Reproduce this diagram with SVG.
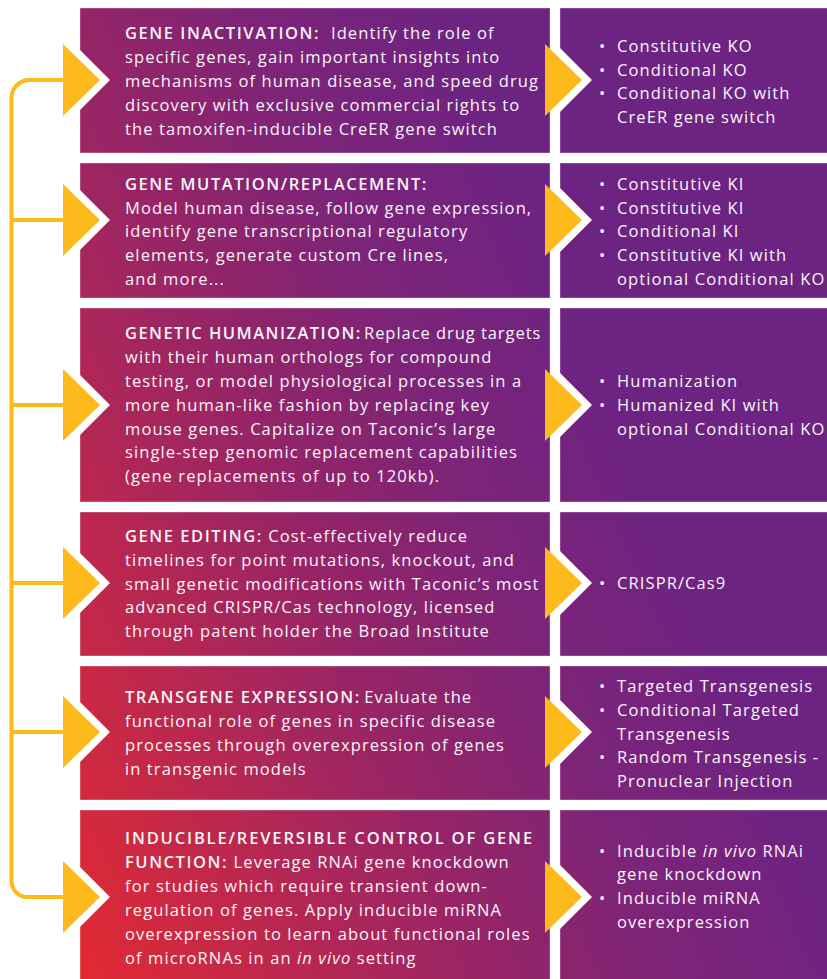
<svg xmlns="http://www.w3.org/2000/svg" width="827" height="979" viewBox="0 0 827 979">
<defs>
<linearGradient id="bg" gradientUnits="userSpaceOnUse" x1="82" y1="975" x2="752" y2="680">
<stop offset="0" stop-color="#e22a33"/>
<stop offset="0.2" stop-color="#c42848"/>
<stop offset="0.4" stop-color="#a6265d"/>
<stop offset="0.55" stop-color="#922469"/>
<stop offset="0.75" stop-color="#7c2479"/>
<stop offset="1" stop-color="#6c2382"/>
</linearGradient>
<style>
.box{fill:url(#bg);stroke:#ffffff;stroke-opacity:0.35;stroke-width:1}
.wy{fill:#ffffff}
.ay{fill:#fdba1c}
.conn{fill:none;stroke:#fdba1c;stroke-width:4}
text{font-family:"Open Sans","Noto Sans","Liberation Sans",sans-serif;font-size:16.5px;fill:#fbf4f8;letter-spacing:1.1px}
.h{font-weight:600;letter-spacing:1.55px}
.i{font-style:italic}
</style>
</defs>
<rect width="827" height="979" fill="#ffffff"/>
<g id="connectors">
<path class="conn" d="M63 80 H29.5 A18 18 0 0 0 11.5 98 V881 A16 16 0 0 0 27.5 897 H63"/>
<path class="conn" d="M11.5 220 H63 M11.5 405 H63 M11.5 583 H63 M11.5 732 H63"/>
</g>
<g id="row1">
<rect class="box" x="80" y="8" width="470" height="145"/>
<rect class="box" x="560" y="8" width="280" height="145"/>
<polygon class="wy" points="80,50 110,80 80,110"/><polygon class="ay" points="63,44 100,80 63,116"/>
<polygon class="wy" points="550,38 592,80 550,122"/><polygon class="ay" points="545,44 582,80 545,116"/>
<text x="125" y="38.5"><tspan class="h">GENE INACTIVATION:</tspan>&#160; Identify the role of</text>
<text x="125" y="62.5">specific genes, gain important insights into</text>
<text x="125" y="86.5">mechanisms of human disease, and speed drug</text>
<text x="125" y="110.5">discovery with exclusive commercial rights to</text>
<text x="125" y="134.5">the tamoxifen-inducible CreER gene switch</text>
<text x="599" y="52">•</text><text x="617" y="52">Constitutive KO</text>
<text x="599" y="75.5">•</text><text x="617" y="75.5">Conditional KO</text>
<text x="599" y="99">•</text><text x="617" y="99">Conditional KO with</text>
<text x="617" y="123">CreER gene switch</text>
</g>
<g id="row2">
<rect class="box" x="80" y="163" width="470" height="135"/>
<rect class="box" x="560" y="163" width="280" height="135"/>
<polygon class="wy" points="80,190 110,220 80,250"/><polygon class="ay" points="63,184 100,220 63,256"/>
<polygon class="wy" points="550,178 592,220 550,262"/><polygon class="ay" points="545,184 582,220 545,256"/>
<text x="125" y="190"><tspan class="h">GENE MUTATION/REPLACEMENT:</tspan></text>
<text x="125" y="213.5">Model human disease, follow gene expression,</text>
<text x="125" y="237">identify gene transcriptional regulatory</text>
<text x="125" y="261">elements, generate custom Cre lines,</text>
<text x="125" y="284.5">and more...</text>
<text x="599" y="190">•</text><text x="617" y="190">Constitutive KI</text>
<text x="599" y="213.5">•</text><text x="617" y="213.5">Constitutive KI</text>
<text x="599" y="237">•</text><text x="617" y="237">Conditional KI</text>
<text x="599" y="261">•</text><text x="617" y="261">Constitutive KI with</text>
<text x="617" y="284.5">optional Conditional KO</text>
</g>
<g id="row3">
<rect class="box" x="80" y="308" width="470" height="194"/>
<rect class="box" x="560" y="308" width="280" height="194"/>
<polygon class="wy" points="80,375 110,405 80,435"/><polygon class="ay" points="63,369 100,405 63,441"/>
<polygon class="wy" points="550,363 592,405 550,447"/><polygon class="ay" points="545,369 582,405 545,441"/>
<text x="125" y="339"><tspan class="h" style="letter-spacing:1.45px">GENETIC HUMANIZATION:</tspan><tspan dx="-3" style="letter-spacing:0.95px"> Replace drug targets</tspan></text>
<text x="125" y="363">with their human orthologs for compound</text>
<text x="125" y="387">testing, or model physiological processes in a</text>
<text x="125" y="411">more human-like fashion by replacing key</text>
<text x="125" y="434.5">mouse genes. Capitalize on Taconic’s large</text>
<text x="125" y="458">single-step genomic replacement capabilities</text>
<text x="125" y="482">(gene replacements of up to 120kb).</text>
<text x="599" y="387">•</text><text x="617" y="387">Humanization</text>
<text x="599" y="411">•</text><text x="617" y="411">Humanized KI with</text>
<text x="617" y="435">optional Conditional KO</text>
</g>
<g id="row4">
<rect class="box" x="80" y="512" width="470" height="144"/>
<rect class="box" x="560" y="512" width="280" height="144"/>
<polygon class="wy" points="80,553 110,583 80,613"/><polygon class="ay" points="63,547 100,583 63,619"/>
<polygon class="wy" points="550,541 592,583 550,625"/><polygon class="ay" points="545,547 582,583 545,619"/>
<text x="125" y="542"><tspan class="h">GENE EDITING:</tspan> Cost-effectively reduce</text>
<text x="125" y="566">timelines for point mutations, knockout, and</text>
<text x="125" y="589.5">small genetic modifications with Taconic’s most</text>
<text x="125" y="613">advanced CRISPR/Cas technology, licensed</text>
<text x="125" y="637">through patent holder the Broad Institute</text>
<text x="599" y="589">•</text><text x="617" y="589">CRISPR/Cas9</text>
</g>
<g id="row5">
<rect class="box" x="80" y="666" width="470" height="134"/>
<rect class="box" x="560" y="666" width="280" height="134"/>
<polygon class="wy" points="80,702 110,732 80,762"/><polygon class="ay" points="63,696 100,732 63,768"/>
<polygon class="wy" points="550,690 592,732 550,774"/><polygon class="ay" points="545,696 582,732 545,768"/>
<text x="125" y="703"><tspan class="h">TRANSGENE EXPRESSION:</tspan><tspan dx="-2"> Evaluate the</tspan></text>
<text x="125" y="727">functional role of genes in specific disease</text>
<text x="125" y="751">processes through overexpression of genes</text>
<text x="125" y="775">in transgenic models</text>
<text x="599" y="692">•</text><text x="617" y="692">Targeted Transgenesis</text>
<text x="599" y="716">•</text><text x="617" y="716">Conditional Targeted</text>
<text x="617" y="739.5">Transgenesis</text>
<text x="599" y="763">•</text><text x="617" y="763">Random Transgenesis -</text>
<text x="617" y="787">Pronuclear Injection</text>
</g>
<g id="row6">
<rect class="box" x="80" y="810" width="470" height="190"/>
<rect class="box" x="560" y="810" width="280" height="190"/>
<polygon class="wy" points="80,867 110,897 80,927"/><polygon class="ay" points="63,861 100,897 63,933"/>
<polygon class="wy" points="550,855 592,897 550,939"/><polygon class="ay" points="545,861 582,897 545,933"/>
<text x="125" y="844"><tspan class="h" style="letter-spacing:1.85px">INDUCIBLE/REVERSIBLE CONTROL OF GENE</tspan></text>
<text x="125" y="868"><tspan class="h">FUNCTION:</tspan> Leverage RNAi gene knockdown</text>
<text x="125" y="892">for studies which require transient down-</text>
<text x="125" y="916">regulation of genes. Apply inducible miRNA</text>
<text x="125" y="940">overexpression to learn about functional roles</text>
<text x="125" y="964">of microRNAs in an <tspan class="i">in vivo</tspan> setting</text>
<text x="599" y="856.5">•</text><text x="617" y="856.5">Inducible <tspan class="i">in vivo</tspan> RNAi</text>
<text x="617" y="880">gene knockdown</text>
<text x="599" y="904">•</text><text x="617" y="904">Inducible miRNA</text>
<text x="617" y="928">overexpression</text>
</g>
</svg>
